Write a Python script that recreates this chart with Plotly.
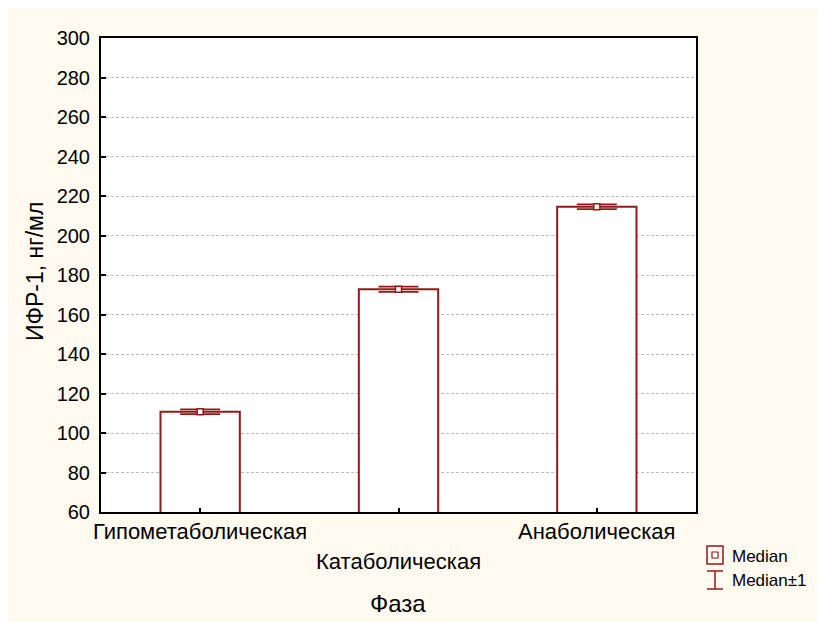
import plotly.graph_objects as go

categories = ["Гипометаболическая", "Катаболическая", "Анаболическая"]
medians = [110.8, 172.8, 214.6]
errors = [1.2, 1.3, 1.2]
y_ticks = [60, 80, 100, 120, 140, 160, 180, 200, 220, 240, 260, 280, 300]

RED = "#8E1B1B"
CREAM = "#FFFAF0"
FONT = "Liberation Sans, Arial, sans-serif"

xpos = list(range(len(categories)))

fig = go.Figure()
fig.add_trace(go.Bar(
    x=xpos, y=medians, width=0.4,
    marker=dict(color="white", line=dict(color=RED, width=2)),
    error_y=dict(type="data", array=errors, visible=True, color=RED, thickness=1.8, width=20),
    showlegend=False, hoverinfo="skip",
))
fig.add_trace(go.Scatter(
    x=xpos, y=medians, mode="markers",
    marker=dict(symbol="square", size=6, color="white", line=dict(color=RED, width=1.5)),
    showlegend=False, hoverinfo="skip",
))

# background shapes: cream paper area with white 8px border, white plot area
fig.add_shape(type="rect", xref="paper", yref="paper", layer="below",
              x0=(8 - 101) / 595, x1=(818 - 101) / 595, y0=-(622 - 512) / 474, y1=(512 - 8) / 474,
              fillcolor=CREAM, line=dict(width=0))
fig.add_shape(type="rect", xref="paper", yref="paper", layer="below",
              x0=0, x1=1, y0=0, y1=1, fillcolor="white", line=dict(width=0))

# category labels (staggered)
offsets = [-19, -49, -19]
for i, (c, off) in enumerate(zip(categories, offsets)):
    fig.add_annotation(x=xpos[i], y=0, xref="x", yref="paper", text=c, showarrow=False,
                       yshift=off, yanchor="middle", font=dict(family=FONT, size=22, color="black"))

# custom legend
lx0 = (707 - 101) / 595
lx1 = (723 - 101) / 595
def py(v):
    return (512 - v) / 474
fig.add_shape(type="rect", xref="paper", yref="paper", x0=lx0, x1=lx1, y0=py(564), y1=py(546),
              line=dict(color=RED, width=1.5), fillcolor="rgba(0,0,0,0)")
fig.add_shape(type="rect", xref="paper", yref="paper", x0=(712 - 101) / 595, x1=(718 - 101) / 595,
              y0=py(558), y1=py(552), line=dict(color=RED, width=1.2), fillcolor="white")
fig.add_shape(type="line", xref="paper", yref="paper", x0=(715 - 101) / 595, x1=(715 - 101) / 595,
              y0=py(589), y1=py(571), line=dict(color=RED, width=1.5))
fig.add_shape(type="line", xref="paper", yref="paper", x0=lx0, x1=lx1,
              y0=py(571), y1=py(571), line=dict(color=RED, width=1.5))
fig.add_shape(type="line", xref="paper", yref="paper", x0=lx0, x1=lx1,
              y0=py(589), y1=py(589), line=dict(color=RED, width=1.5))
fig.add_annotation(x=(732 - 101) / 595, y=py(556), xref="paper", yref="paper", text="Median",
                   showarrow=False, xanchor="left", yanchor="middle", xshift=-2,
                   font=dict(family=FONT, size=17, color="black"))
fig.add_annotation(x=(732 - 101) / 595, y=py(580), xref="paper", yref="paper", text="Median±1",
                   showarrow=False, xanchor="left", yanchor="middle", xshift=-2,
                   font=dict(family=FONT, size=17, color="black"))

# axis titles
fig.add_annotation(x=(35 - 101) / 595, y=py(272), xref="paper", yref="paper", text="ИФР-1, нг/мл",
                   textangle=-90, showarrow=False, xanchor="center", yanchor="middle",
                   font=dict(family=FONT, size=23, color="black"))
fig.add_annotation(x=(398 - 101) / 595, y=py(603), xref="paper", yref="paper", text="Фаза",
                   showarrow=False, xanchor="center", yanchor="middle",
                   font=dict(family=FONT, size=24, color="black"))

fig.update_layout(
    width=818, height=622,
    margin=dict(l=101, r=122, t=38, b=110, pad=0),
    paper_bgcolor="white", plot_bgcolor="white",
    font=dict(family=FONT, size=16, color="black"),
    bargap=0.6,
    xaxis=dict(range=[-0.5, 2.5], tickvals=xpos, ticktext=["", "", ""], showticklabels=False,
               ticks="inside", ticklen=4, tickcolor="black", tickwidth=1.5, showgrid=False, zeroline=False,
               showline=True, linecolor="black", linewidth=2, mirror=True, fixedrange=True),
    yaxis=dict(range=[60, 300], tickvals=y_ticks, ticks="inside", ticklen=5, tickcolor="black",
               tickwidth=1.5, tickfont=dict(family=FONT, size=20, color="black"),
               showgrid=True, gridcolor="#BDBDBD", gridwidth=1, griddash="3px,2px",
               zeroline=False, showline=True, linecolor="black", linewidth=2, mirror=True,
               ticklabelstandoff=5),
)

fig.write_html("out.html")
